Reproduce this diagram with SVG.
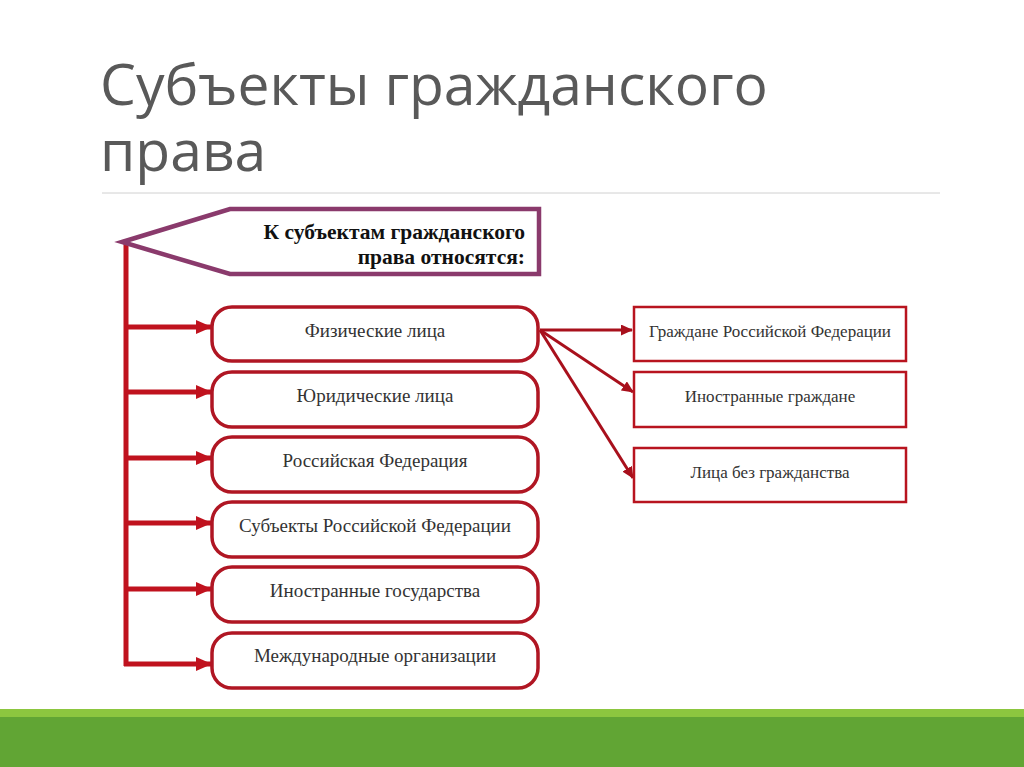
<svg xmlns="http://www.w3.org/2000/svg" width="1024" height="767" viewBox="0 0 1024 767">
<style>
.title{font-family:"Open Sans","Liberation Sans",sans-serif;font-size:57px;fill:#595959}
.box{fill:#fff;stroke:#b01623;stroke-width:3.5}
.rbox{fill:#fff;stroke:#b8141f;stroke-width:2.5}
.lbl{font-family:"Liberation Serif",serif;font-size:19px;fill:#333;text-anchor:middle}
.rlbl{font-family:"Liberation Serif",serif;font-size:17px;fill:#333;text-anchor:middle}
.hd{font-family:"Liberation Serif",serif;font-size:21.5px;font-weight:bold;fill:#111;text-anchor:end}
.conn{stroke:#c0121e;fill:none}
</style>
<defs>
<marker id="ah" markerWidth="16" markerHeight="14" refX="15" refY="7" orient="auto" markerUnits="userSpaceOnUse" viewBox="0 0 16 14">
<path d="M0,0 L16,7 L0,14 z" fill="#c0121e"/>
</marker>
<marker id="ahs" markerWidth="12" markerHeight="11" refX="11" refY="5.5" orient="auto" markerUnits="userSpaceOnUse" viewBox="0 0 12 11">
<path d="M0,0 L12,5.5 L0,11 z" fill="#a8101c"/>
</marker>
</defs>
<rect width="1024" height="767" fill="#fff"/>
<text class="title" x="100" y="105">Субъекты гражданского<tspan x="100" y="171">права</tspan></text>
<line x1="102" y1="193" x2="940" y2="193" stroke="#d0d0d0" stroke-width="1"/>
<rect x="0" y="709" width="1024" height="9" fill="#8cc63f"/>
<rect x="0" y="717" width="1024" height="50" fill="#61a534"/>

<g id="connectors">
<line class="conn" x1="126" y1="242" x2="126" y2="666" stroke-width="5"/>
<line class="conn" x1="124" y1="327" x2="211" y2="327" stroke-width="5" marker-end="url(#ah)"/>
<line class="conn" x1="124" y1="392" x2="211" y2="392" stroke-width="5" marker-end="url(#ah)"/>
<line class="conn" x1="124" y1="458" x2="211" y2="458" stroke-width="5" marker-end="url(#ah)"/>
<line class="conn" x1="124" y1="523" x2="211" y2="523" stroke-width="5" marker-end="url(#ah)"/>
<line class="conn" x1="124" y1="589" x2="211" y2="589" stroke-width="5" marker-end="url(#ah)"/>
<line class="conn" x1="124" y1="664" x2="211" y2="664" stroke-width="5" marker-end="url(#ah)"/>
<line x1="540" y1="330" x2="632" y2="330" stroke="#a8101c" stroke-width="3" marker-end="url(#ahs)"/>
<line x1="540" y1="330" x2="633" y2="392" stroke="#a8101c" stroke-width="3" marker-end="url(#ahs)"/>
<line x1="540" y1="330" x2="633" y2="478" stroke="#a8101c" stroke-width="3" marker-end="url(#ahs)"/>
</g>

<g id="header">
<polygon points="122,242 230,209 539,209 539,274 230,274" fill="#fff" stroke="#8a3a6c" stroke-width="4.5"/>
<text class="hd" x="525" y="239">К субъектам гражданского<tspan x="525" y="264">права относятся:</tspan></text>
</g>

<g id="n1"><rect class="box" x="212" y="307" width="326" height="54" rx="20"/><text class="lbl" x="375" y="337">Физические лица</text></g>
<g id="n2"><rect class="box" x="212" y="372" width="326" height="55" rx="20"/><text class="lbl" x="375" y="402">Юридические лица</text></g>
<g id="n3"><rect class="box" x="212" y="437" width="326" height="55" rx="20"/><text class="lbl" x="375" y="467">Российская Федерация</text></g>
<g id="n4"><rect class="box" x="212" y="502" width="326" height="55" rx="20"/><text class="lbl" x="375" y="532">Субъекты Российской Федерации</text></g>
<g id="n5"><rect class="box" x="212" y="567" width="326" height="55" rx="20"/><text class="lbl" x="375" y="597">Иностранные государства</text></g>
<g id="n6"><rect class="box" x="212" y="633" width="326" height="55" rx="20"/><text class="lbl" x="375" y="662">Международные организации</text></g>

<g id="r1"><rect class="rbox" x="634" y="307" width="272" height="54"/><text class="rlbl" x="770" y="337">Граждане Российской Федерации</text></g>
<g id="r2"><rect class="rbox" x="634" y="372" width="272" height="55"/><text class="rlbl" x="770" y="402">Иностранные граждане</text></g>
<g id="r3"><rect class="rbox" x="634" y="448" width="272" height="54"/><text class="rlbl" x="770" y="478">Лица без гражданства</text></g>
</svg>
